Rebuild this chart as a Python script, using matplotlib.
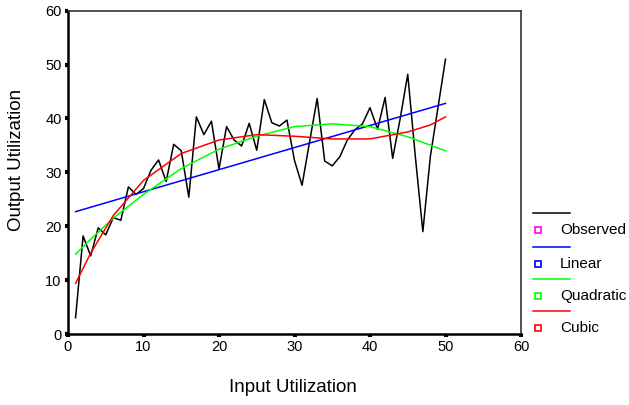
import matplotlib.pyplot as plt
from matplotlib.lines import Line2D

plt.rcParams["font.family"] = ["Liberation Sans", "DejaVu Sans"]

# Observed series (x = 1..50)
obs_x = list(range(1, 51))
obs_y = [3.0, 18.2, 14.5, 19.7, 18.4, 21.6, 21.1, 27.3, 25.9, 27.0,
         30.4, 32.3, 28.3, 35.2, 34.0, 25.4, 40.3, 37.0, 39.5, 30.6,
         38.5, 36.0, 34.9, 39.1, 34.1, 43.5, 39.2, 38.6, 39.7, 32.2,
         27.6, 35.7, 43.7, 32.1, 31.2, 32.9, 36.0, 37.9, 39.0, 42.0,
         38.0, 43.9, 32.6, 40.0, 48.2, 33.0, 19.0, 33.0, 42.0, 51.0]

# Fitted curves
lin_x = [1, 10, 20, 30, 40, 50]
lin_y = [22.7, 26.4, 30.5, 34.6, 38.7, 42.8]

quad_x = [1, 3, 6, 10, 15, 20, 25, 30, 35, 40, 45, 50]
quad_y = [14.8, 17.6, 21.5, 25.9, 30.7, 34.3, 36.7, 38.5, 39.0, 38.5, 36.6, 34.0]

cub_x = [1, 3, 6, 10, 15, 20, 25, 30, 35, 40, 45, 48, 50]
cub_y = [9.4, 15.0, 22.0, 28.5, 33.5, 36.0, 37.0, 36.7, 36.2, 36.2, 37.5, 38.8, 40.3]

x_ticks = [0, 10, 20, 30, 40, 50, 60]
y_ticks = [0, 10, 20, 30, 40, 50, 60]

legend_names = ["Observed", "Linear", "Quadratic", "Cubic"]
line_colors = ["black", "#0000FF", "#00FF00", "#FF0000"]
marker_colors = ["#FF00FF", "#0000FF", "#00FF00", "#FF0000"]

fig = plt.figure(figsize=(6.29, 4.05), dpi=100)
ax = fig.add_axes([68 / 629, 1 - 334 / 405, (521 - 68) / 629, (334 - 10.7) / 405])

ax.plot(obs_x, obs_y, color=line_colors[0], lw=1.1)
ax.plot(lin_x, lin_y, color=line_colors[1], lw=1.1)
ax.plot(quad_x, quad_y, color=line_colors[2], lw=1.1)
ax.plot(cub_x, cub_y, color=line_colors[3], lw=1.1)

ax.set_xlim(0, 60)
ax.set_ylim(0, 60)
ax.set_xticks(x_ticks)
ax.set_yticks(y_ticks)
ax.tick_params(direction="out", length=2.5, width=3, labelsize=10.5)
ax.tick_params(axis="y", pad=2)
ax.tick_params(axis="x", pad=2)

for side in ["left", "bottom"]:
    ax.spines[side].set_linewidth(1.8)
    ax.spines[side].set_color("black")
for side in ["top", "right"]:
    ax.spines[side].set_linewidth(1.2)
    ax.spines[side].set_color("#333333")

ax.set_xlabel("Input Utilization", fontsize=13.5, va="center")
ax.set_ylabel("Output Utilization", fontsize=13.5, va="center")
ax.xaxis.set_label_coords((293 - 68) / 453, (334 - 388) / 323.3)
ax.yaxis.set_label_coords((17 - 68) / 453, (334 - 160) / 323.3)

# SPSS-style legend: line sample, then marker + name
row_y = [213, 247, 279, 311]
for i, name in enumerate(legend_names):
    ly = 1 - row_y[i] / 405
    fig.add_artist(Line2D([533 / 629, 570 / 629], [ly, ly],
                          color=line_colors[i], lw=1.1, transform=fig.transFigure))
    my = 1 - (row_y[i] + 17) / 405
    fig.add_artist(Line2D([538 / 629], [my], marker="s", markersize=4.5,
                          markerfacecolor="none", markeredgecolor=marker_colors[i],
                          markeredgewidth=1.2, linestyle="none",
                          transform=fig.transFigure))
    fig.text(560 / 629, my, name, fontsize=11, va="center", ha="left")

fig.savefig("out.png", dpi=100)
